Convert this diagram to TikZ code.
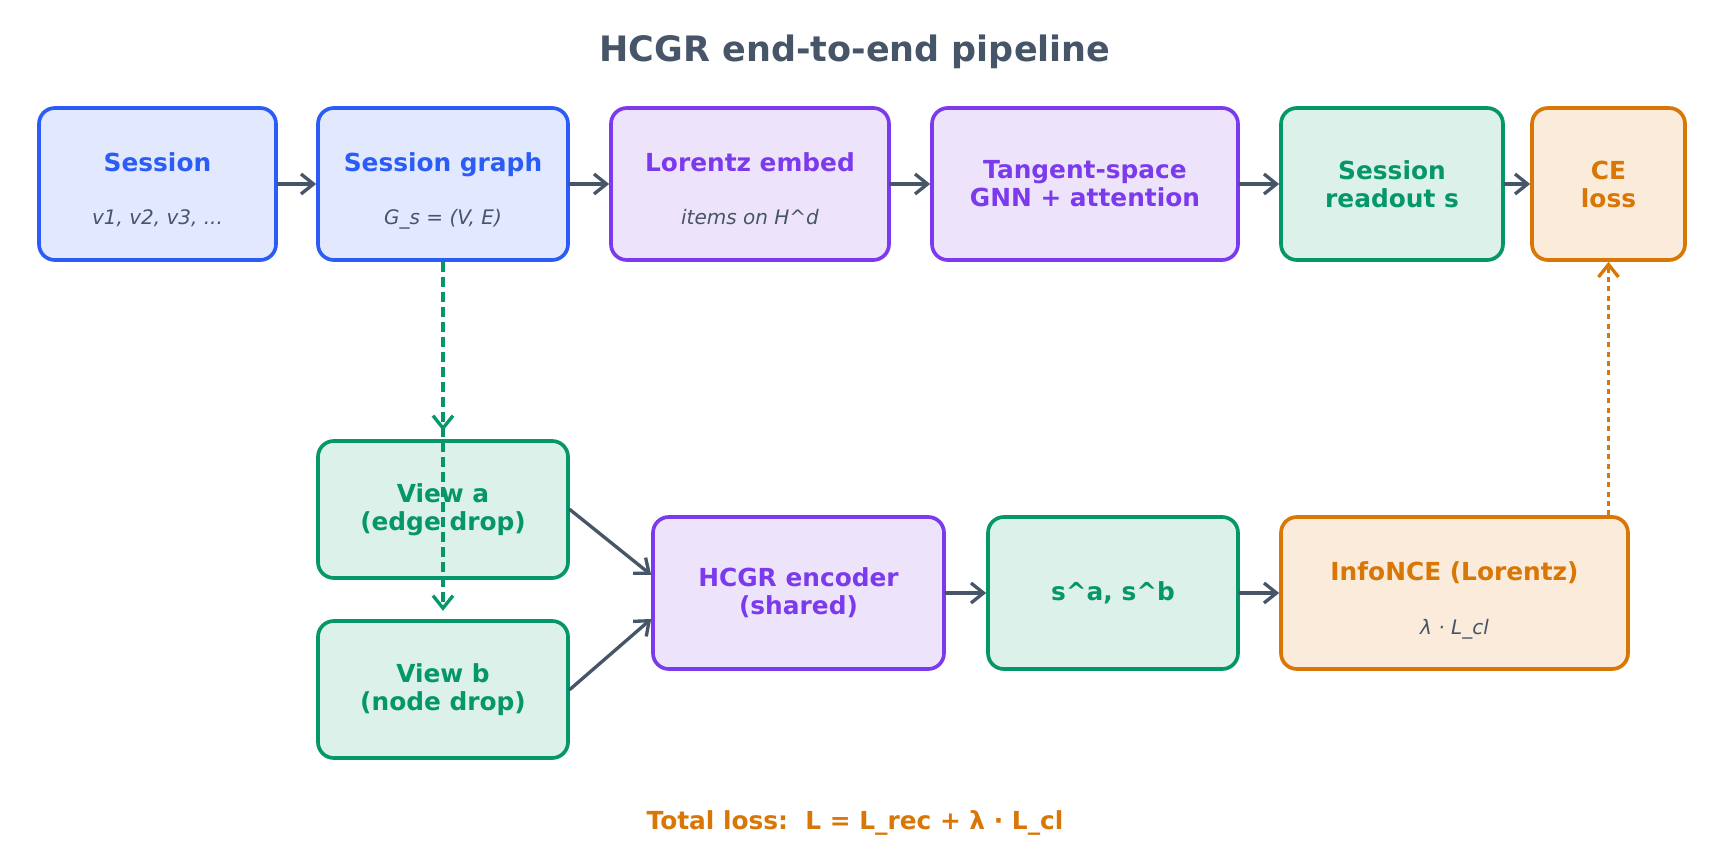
\documentclass[tikz,border=0pt]{standalone}
\usepackage{fontspec}
\setmainfont{DejaVu Sans}
\usetikzlibrary{calc,positioning,arrows.meta}

\definecolor{slate}{HTML}{475569}
\definecolor{bluedk}{HTML}{2B5CF6}
\definecolor{bluelt}{HTML}{E2E9FE}
\definecolor{purpdk}{HTML}{7C3AED}
\definecolor{purplt}{HTML}{EDE4FB}
\definecolor{grndk}{HTML}{059669}
\definecolor{grnlt}{HTML}{DCF1E9}
\definecolor{orgdk}{HTML}{D97706}
\definecolor{orglt}{HTML}{FAEBDB}

\begin{document}
\begin{tikzpicture}[x=0.6pt, y=-0.6pt, >={Straight Barb[length=7.5pt,width=12pt]},
    box/.style={draw, line width=2.2pt, rounded corners=9.5pt, inner sep=0pt,
      minimum height=152*0.6pt, align=center,
      font=\fontsize{14.9}{16.8}\selectfont\bfseries},
    wd/.style={minimum width=#1*0.6pt},
    ht/.style={minimum height=#1*0.6pt},
    bluebox/.style={box, draw=bluedk, fill=bluelt, text=bluedk},
    purpbox/.style={box, draw=purpdk, fill=purplt, text=purpdk},
    grnbox/.style={box, draw=grndk, fill=grnlt, text=grndk},
    orgbox/.style={box, draw=orgdk, fill=orglt, text=orgdk},
    head/.style={anchor=base, inner sep=0pt, font=\fontsize{14.9}{16.8}\selectfont\bfseries},
    sub/.style={anchor=base, inner sep=0pt, text=slate, font=\fontsize{12}{14}\selectfont\itshape},
    flow/.style={->, slate, line width=2pt, line cap=round, line join=round},
    viewflow/.style={->, grndk, line width=2pt, dash pattern=on 6pt off 3pt, shorten >=5pt},
    lossflow/.style={->, orgdk, line width=2pt, dash pattern=on 3pt off 2.6pt},
  ]
  \useasboundingbox (0,0) rectangle (1710,867);

  % title
  \node[text=slate, font=\fontsize{21}{25}\selectfont\bfseries] (title) at (855,52) {HCGR end-to-end pipeline};

  % top row
  \node[bluebox, wd=237] (sess) at (157.5,184) {};
  \node[head, text=bluedk] (sess-t) at ($(sess)+(0,-12.5)$) {Session};
  \node[sub] (sess-s) at ($(sess)+(0,41)$) {v1, v2, v3, ...};

  \node[bluebox, wd=250] (graph) at (443,184) {};
  \node[head, text=bluedk] (graph-t) at ($(graph)+(0,-12.5)$) {Session graph};
  \node[sub] (graph-s) at ($(graph)+(0,41)$) {G\_s = (V, E)};

  \node[purpbox, wd=278] (embed) at (750,184) {};
  \node[head, text=purpdk] (embed-t) at ($(embed)+(0,-12.5)$) {Lorentz embed};
  \node[sub] (embed-s) at ($(embed)+(0,41)$) {items on H\textasciicircum d};

  \node[purpbox, wd=306] (gnn) at (1085,184) {Tangent-space\\GNN + attention};
  \node[grnbox, wd=222] (readout) at (1392,184) {Session\\readout s};
  \node[orgbox, wd=153] (ce) at (1608.5,184) {CE\\loss};

  % contrastive branch
  \node[grnbox, wd=250, ht=137] (va) at (443,509.5) {View a\\(edge drop)};
  \node[grnbox, wd=250, ht=137] (vb) at (443,689.5) {View b\\(node drop)};
  \node[purpbox, wd=291] (enc) at (798.5,593) {HCGR encoder\\(shared)};
  \node[grnbox, wd=250] (pair) at (1113,593) {s\textasciicircum a, s\textasciicircum b};
  \node[orgbox, wd=347] (nce) at (1454.5,593) {};
  \node[head, text=orgdk] (nce-t) at ($(nce)+(0,-12.5)$) {InfoNCE (Lorentz)};
  \node[sub] (nce-s) at ($(nce)+(0,41)$) {λ · L\_cl};

  % arrows
  \draw[flow] (sess) -- (graph);
  \draw[flow] (graph) -- (embed);
  \draw[flow] (embed) -- (gnn);
  \draw[flow] (gnn) -- (readout);
  \draw[flow] (readout) -- (ce);

  \draw[viewflow] (graph.south) -- (va.north);
  \draw[viewflow] (graph.south) -- (vb.north);

  \draw[flow] (va.east) -- (enc.173);
  \draw[flow] (vb.east) -- (enc.190);
  \draw[flow] (enc) -- (pair);
  \draw[flow] (pair) -- (nce);
  \draw[lossflow] (nce.north -| ce.south) -- (ce.south);

  % total loss
  \node[text=orgdk, font=\fontsize{14.9}{17}\selectfont\bfseries] (total) at (855,823)
    {Total loss:\ \ L = L\_rec + λ · L\_cl};
\end{tikzpicture}
\end{document}
